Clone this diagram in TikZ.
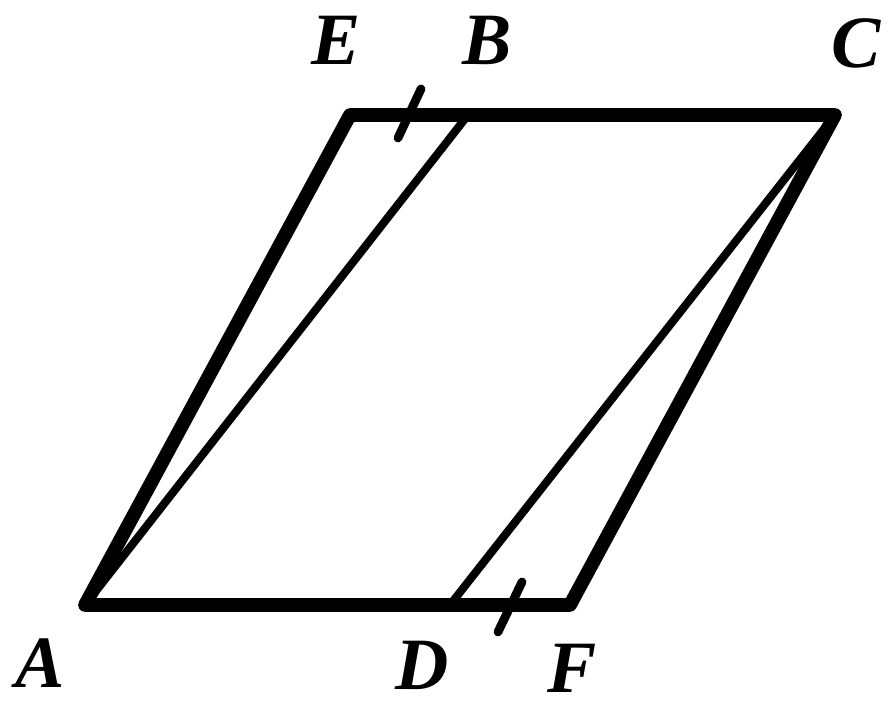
\documentclass[tikz,border=0pt]{standalone}
\usepackage{fontspec}
\setmainfont{Liberation Serif}
\usetikzlibrary{calc}

\begin{document}
\begin{tikzpicture}[
    thickedge/.style={line width=3.9pt, line join=round},
    thinedge/.style={line width=2.3pt},
    tickmark/.style={line width=2.5pt, line cap=round},
    lbl/.style={font=\fontsize{21}{24}\selectfont\bfseries\itshape, inner sep=0pt}]
  \useasboundingbox (0,0) rectangle (8.91,7.11);

  % vertices
  \coordinate (A) at (0.85,1.06);
  \coordinate (E) at (3.50,5.96);
  \coordinate (C) at (8.35,5.96);
  \coordinate (F) at (5.70,1.06);
  \coordinate (B) at (4.68,5.96);
  \coordinate (D) at (4.50,1.06);

  % labels
  \node[lbl] (la) at (0.40,0.48) {A};
  \node[lbl] (le) at (3.36,6.71) {E};
  \node[lbl] (lb) at (4.87,6.71) {B};
  \node[lbl] (lc) at (8.56,6.68) {C};
  \node[lbl] (ld) at (4.22,0.46) {D};
  \node[lbl] (lf) at (5.72,0.43) {F};

  % parallelogram AECF
  \draw[thickedge] (A) -- (E) -- (C) -- (F) -- cycle;
  % inner lines
  \draw[thinedge] (A) -- (B);
  \draw[thinedge] (D) -- (C);

  % equal marks on EB and DF
  \coordinate (mEB) at ($(E)!0.5!(B)$);
  \coordinate (mDF) at ($(D)!0.5!(F)$);
  \draw[tickmark] ($(mEB)+(-0.11,-0.23)$) -- ($(mEB)+(0.12,0.26)$);
  \draw[tickmark] ($(mDF)+(-0.12,-0.27)$) -- ($(mDF)+(0.12,0.23)$);
\end{tikzpicture}
\end{document}
